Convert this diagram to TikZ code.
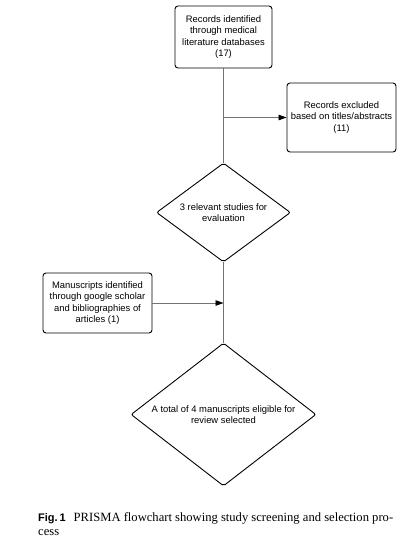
\documentclass[tikz,border=0pt]{standalone}
\usepackage{fontspec}
\setmainfont{Liberation Serif}
\setsansfont{Liberation Sans}
\usetikzlibrary{positioning,shapes.geometric,arrows.meta}

\begin{document}
\begin{tikzpicture}[x=1pt,y=-1pt,
  box/.style={rectangle, draw, rounded corners=3pt, line width=0.9pt, align=center, inner sep=2pt,
    font=\sffamily\fontsize{9.4}{11.5}\selectfont},
  decision/.style={diamond, draw, rounded corners=2pt, line width=0.9pt, align=center, inner sep=0pt,
    font=\sffamily\fontsize{9.4}{11.5}\selectfont},
  link/.style={draw=black!55, line width=0.8pt},
  linkarrow/.style={link, -{Triangle[length=8pt,width=5.5pt]}, arrows={[fill=black,color=black]}}
  ]

\draw[use as bounding box, draw=none] (0,0) rectangle (415,544);

% Boxes
\draw (223.5,37) node [box, minimum width=97pt, minimum height=62pt] (records) {Records identified\\through medical\\literature databases\\(17)};
\draw (341.5,117.5) node [box, minimum width=109pt, minimum height=69pt] (excluded) {Records excluded\\based on titles/abstracts\\(11)};
\draw (223.5,212.5) node [decision, minimum width=134pt, minimum height=99pt, shape aspect=1.35] (relevant) {3 relevant studies for\\evaluation};
\draw (97.5,303) node [box, minimum width=109pt, minimum height=60pt] (manuscripts) {Manuscripts identified\\through google scholar\\and bibliographies of\\articles (1)};
\draw (223.5,414.5) node [decision, minimum width=185pt, minimum height=143pt, shape aspect=1.29] (eligible) {A total of 4 manuscripts eligible for\\review selected};

% Split and join points
\coordinate (split) at (223.5,117.5);
\coordinate (join) at (223.5,303);

% Lines
\draw [link] (records)--(relevant);
\draw [linkarrow] (split)--(excluded);
\draw [link] (relevant)--(eligible);
\draw [linkarrow] (manuscripts)--(join);

% Caption (base = last line)
\draw (38,535) node [anchor=base west, inner sep=0pt, align=left, font=\fontsize{12.6}{14}\selectfont] (caption)
  {{\sffamily\bfseries\fontsize{11}{14}\selectfont Fig.\,1}\hspace{8pt}PRISMA flowchart showing study screening and selection pro-\\cess};
\end{tikzpicture}
\end{document}
